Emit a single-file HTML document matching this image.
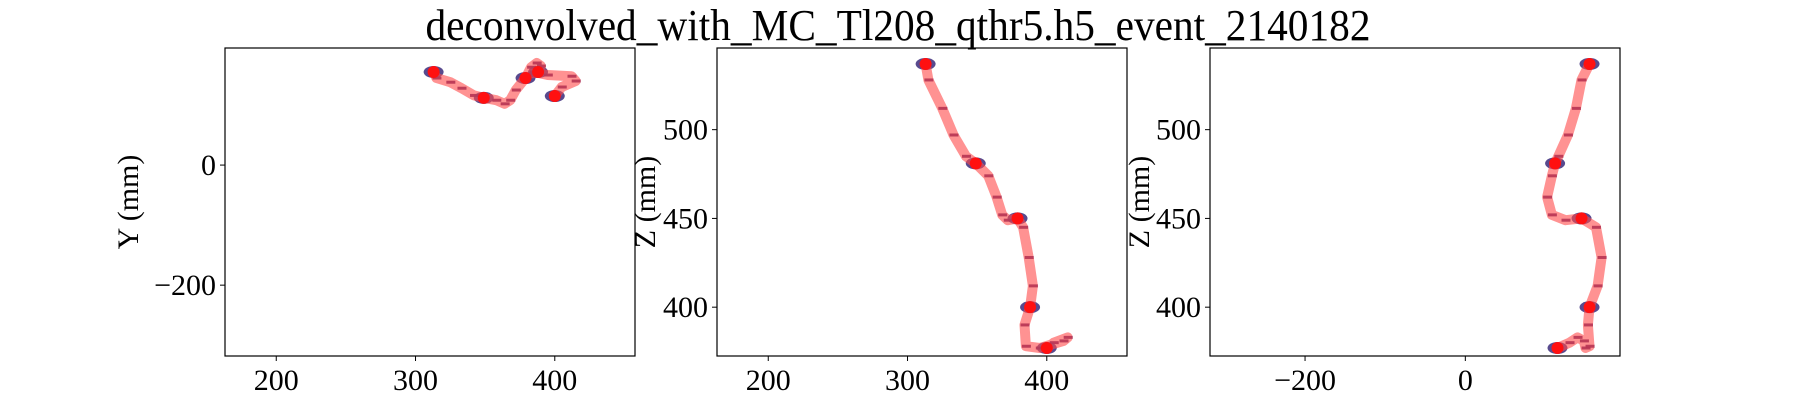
<!DOCTYPE html>
<html><head><meta charset="utf-8"><style>
body{margin:0;background:#fff}
svg{display:block;font-family:"Liberation Serif","DejaVu Serif",serif}
</style></head><body>
<svg id="fig" width="1800" height="400" viewBox="0 0 1800 400">
<text x="898" y="40" font-size="44" text-anchor="middle" textLength="945" lengthAdjust="spacingAndGlyphs">deconvolved_with_MC_Tl208_qthr5.h5_event_2140182</text>
</svg>
<script>
// Track points [x, y, z] in mm
const trackX = [313,315,325,333,342,349,358,364,368,372,379,383,387,390,388,384,385,395,412,415,405,400];
const trackY = [155,145,138,128,116,112,108,102,108,125,145,163,170,165,155,153,155,150,148,140,130,115];
const trackZ = [537,528,512,497,485,481,474,462,452,449,450,445,428,412,400,390,378,377,381,383,380,377];
// Energy blob indices (red dots)
const blobIdx = [0,5,10,14,21];
const xTicks = [200,300,400];
const yTicks = [0,-200];
const zTicks = [400,450,500];
const yzTicks = [-200,0];

const NS='http://www.w3.org/2000/svg';
const svg=document.getElementById('fig');
function el(tag,attrs,parent){const e=document.createElementNS(NS,tag);for(const k in attrs)e.setAttribute(k,attrs[k]);(parent||svg).appendChild(e);return e;}

const panels=[
 {name:'xy',left:225,right:635,top:48,bottom:356,xmin:163.2,xmax:457.6,ymin:-318,ymax:195,hx:trackX,hy:trackY,xt:xTicks,yt:yTicks,label:'Y (mm)',lx:128},
 {name:'xz',left:717,right:1127,top:48,bottom:356,xmin:163.2,xmax:457.6,ymin:372.5,ymax:546,hx:trackX,hy:trackZ,xt:xTicks,yt:zTicks,label:'Z (mm)',lx:645},
 {name:'yz',left:1210,right:1620,top:48,bottom:356,xmin:-318.6,xmax:193,ymin:372.5,ymax:546,hx:trackY,hy:trackZ,xt:yzTicks,yt:zTicks,label:'Z (mm)',lx:1139}
];
panels.forEach((p,pi)=>{
 const sx=v=>p.left+(v-p.xmin)/(p.xmax-p.xmin)*(p.right-p.left);
 const sy=v=>p.bottom-(v-p.ymin)/(p.ymax-p.ymin)*(p.bottom-p.top);
 const g=el('g',{});
 
 
 const cp=el('clipPath',{id:'clip'+pi},g);
 el('rect',{x:p.left,y:p.top,width:p.right-p.left,height:p.bottom-p.top},cp);
 const plot=el('g',{'clip-path':'url(#clip'+pi+')'},g);
 p.hx.forEach((v,i)=>{
  const cx=sx(v),cy=sy(p.hy[i]);
  const h=el('rect',{x:cx-4,y:cy-1.5,width:9,height:3,fill:'#4a1460',opacity:0.9},plot);
  
  
 });
 blobIdx.forEach(i=>{
  const cx=sx(p.hx[i]),cy=sy(p.hy[i]);
  const b=el('ellipse',{cx:cx,cy:cy,rx:10,ry:6,fill:'#3b2a7a',opacity:0.85},plot);
  
  
 });
 let d='';
 p.hx.forEach((v,i)=>{d+=(i?'L':'M')+sx(v).toFixed(1)+','+sy(p.hy[i]).toFixed(1);});
 const tr=el('path',{d:d,fill:'none',stroke:'#ff4a4a','stroke-width':10,'stroke-linecap':'round','stroke-linejoin':'round',opacity:0.6},plot);
 
 
 blobIdx.forEach(i=>{
  const c=el('circle',{cx:sx(p.hx[i]),cy:sy(p.hy[i]),r:6,fill:'#ff1010'},plot);
  
  
 });
 const fr=el('rect',{x:p.left,y:p.top,width:p.right-p.left,height:p.bottom-p.top,fill:'none',stroke:'#000','stroke-width':1.2},g);
 
 
 p.xt.forEach(t=>{
  const x=sx(t);
  el('line',{x1:x,y1:p.bottom,x2:x,y2:p.bottom+5,stroke:'#000'},g);
  const tx=el('text',{x:x,y:p.bottom+34,'font-size':30,'text-anchor':'middle'},g);
  tx.textContent=t<0?'\u2212'+(-t):String(t);
  
  
 });
 p.yt.forEach(t=>{
  const y=sy(t);
  el('line',{x1:p.left-5,y1:y,x2:p.left,y2:y,stroke:'#000'},g);
  const tx=el('text',{x:p.left-9,y:y+10,'font-size':30,'text-anchor':'end'},g);
  tx.textContent=t<0?'\u2212'+(-t):String(t);
  
  
 });
 const yl=el('text',{x:0,y:0,'font-size':30,'text-anchor':'middle',transform:'translate('+(p.lx+10)+',202) rotate(-90)'},g);
 yl.textContent=p.label;
 
 
});
</script>
</body></html>
